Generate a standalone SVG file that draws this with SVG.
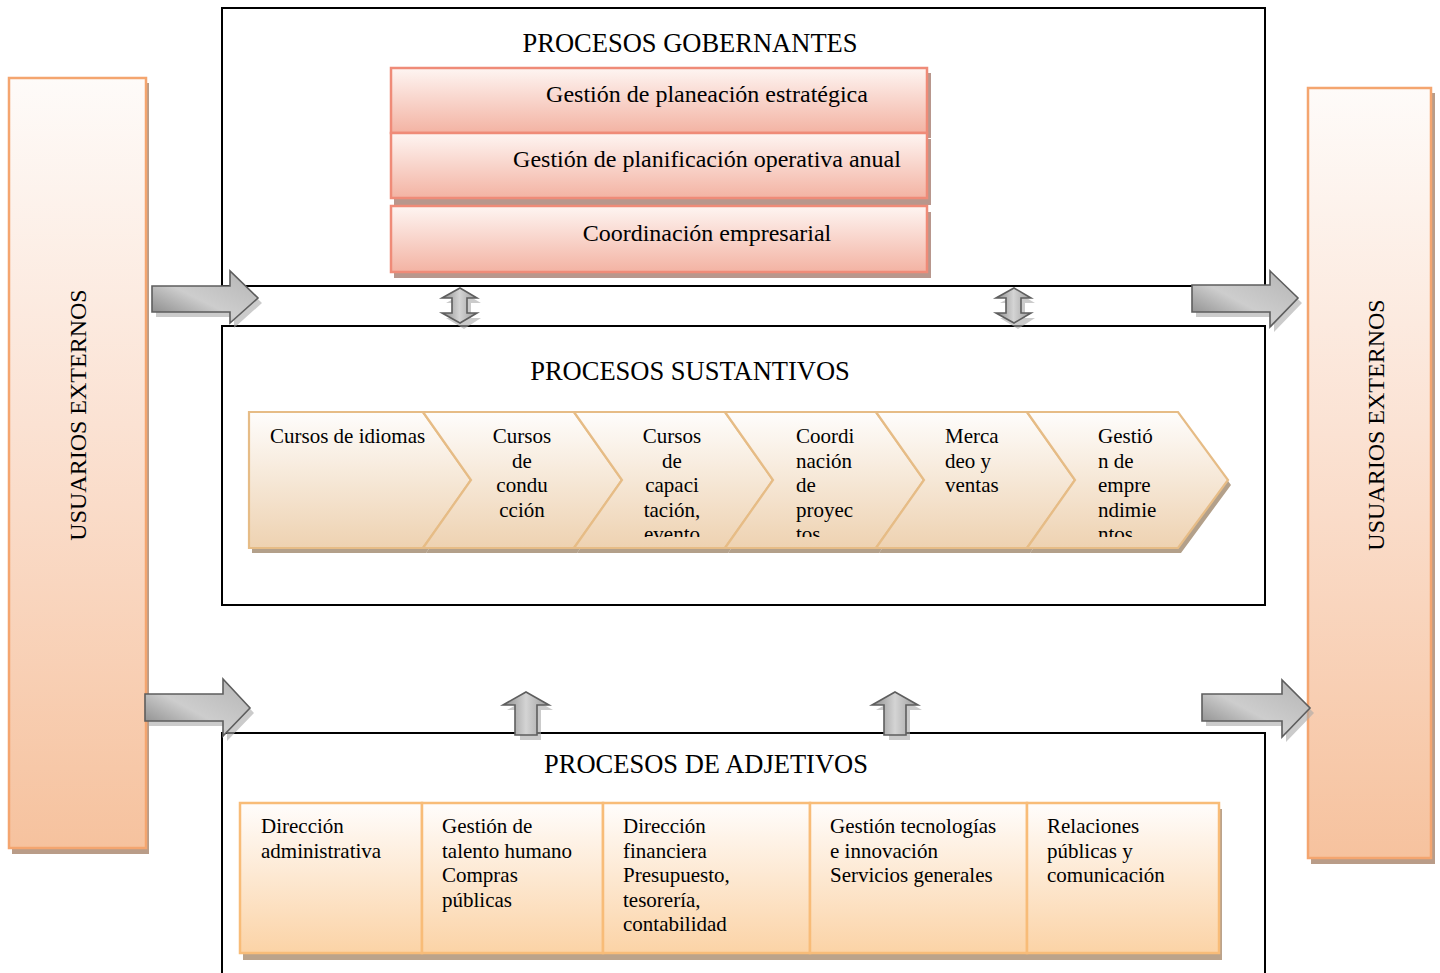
<svg xmlns="http://www.w3.org/2000/svg" width="1440" height="973" viewBox="0 0 1440 973">
<defs>
<linearGradient id="barG" x1="0" y1="0" x2="0" y2="1">
<stop offset="0" stop-color="#fefbf9"/><stop offset="0.45" stop-color="#fbe2d3"/><stop offset="1" stop-color="#f6c29e"/>
</linearGradient>
<linearGradient id="pinkG" x1="0" y1="0" x2="0" y2="1">
<stop offset="0" stop-color="#fef5f2"/><stop offset="1" stop-color="#f3b3a3"/>
</linearGradient>
<linearGradient id="chevG" x1="0" y1="0" x2="0" y2="1">
<stop offset="0" stop-color="#fefdfc"/><stop offset="1" stop-color="#eed2b1"/>
</linearGradient>
<linearGradient id="adjG" x1="0" y1="0" x2="0" y2="1">
<stop offset="0" stop-color="#fffdfc"/><stop offset="1" stop-color="#fbd3a6"/>
</linearGradient>
<linearGradient id="arrG" x1="0" y1="1" x2="1" y2="0">
<stop offset="0" stop-color="#7c7c7c"/><stop offset="0.45" stop-color="#cdcdcd"/><stop offset="1" stop-color="#b4b4b4"/>
</linearGradient>
<linearGradient id="arrV" x1="0" y1="0" x2="1" y2="0">
<stop offset="0" stop-color="#8a8a8a"/><stop offset="0.5" stop-color="#d4d4d4"/><stop offset="1" stop-color="#9a9a9a"/>
</linearGradient>
<clipPath id="chevClip"><rect x="240" y="410" width="1000" height="127"/></clipPath>
</defs>
<style>
text{font-family:"Liberation Serif","Times New Roman",serif;fill:#000}
.title{font-size:26.5px;text-anchor:middle}
.vt{font-size:24px;text-anchor:middle}
.pt{font-size:24px;text-anchor:middle}
.ct{font-size:21px}
.ctm{font-size:21px;text-anchor:middle}
.at{font-size:21px}
.frame{fill:none;stroke:#000;stroke-width:2}
.bar{fill:url(#barG);stroke:#f4a56f;stroke-width:2.5}
.bsh{fill:#b99c88}
.pink{fill:url(#pinkG);stroke:#ef8b78;stroke-width:2.5}
.psh{fill:#b8978d}
.chev{fill:url(#chevG);stroke:#e6bc86;stroke-width:2.2}
.csh{fill:#b3a08a}
.adj{fill:url(#adjG);stroke:#f8bc78;stroke-width:2.5}
.ash{fill:#bba38b}
.arr{fill:url(#arrG);stroke:#5e5e5e;stroke-width:1.6}
.arrv{fill:url(#arrV);stroke:#5e5e5e;stroke-width:1.6}
.ashd{fill:#a8a8a8;opacity:0.6}
</style>

<g id="frames">
<rect class="frame" x="222" y="8" width="1043" height="278"/>
<rect class="frame" x="222" y="326" width="1043" height="279"/>
<rect class="frame" x="222" y="733" width="1043" height="250"/>
</g>

<g id="usuarios-izq">
<rect class="bsh" x="12" y="83" width="137" height="771"/>
<rect class="bar" x="9" y="78" width="137" height="770"/>
<text class="vt" transform="translate(86,415) rotate(-90)">USUARIOS EXTERNOS</text>
</g>
<g id="usuarios-der">
<rect class="bsh" x="1311" y="93" width="124" height="771"/>
<rect class="bar" x="1308" y="88" width="123" height="770"/>
<text class="vt" transform="translate(1384,425) rotate(-90)">USUARIOS EXTERNOS</text>
</g>

<g id="gobernantes">
<text class="title" x="690" y="52">PROCESOS GOBERNANTES</text>
<g id="g-planeacion">
<rect class="psh" x="394" y="73" width="537" height="65"/>
<rect class="pink" x="391" y="68" width="536" height="65"/>
<text class="pt" x="707" y="102">Gestión de planeación estratégica</text>
</g>
<g id="g-planificacion">
<rect class="psh" x="394" y="139" width="537" height="66"/>
<rect class="pink" x="391" y="133" width="536" height="65"/>
<text class="pt" x="707" y="167">Gestión de planificación operativa anual</text>
</g>
<g id="g-coordinacion">
<rect class="psh" x="394" y="212" width="537" height="66"/>
<rect class="pink" x="391" y="206" width="536" height="66"/>
<text class="pt" x="707" y="241">Coordinación empresarial</text>
</g>
</g>

<g id="sustantivos">
<text class="title" x="690" y="380">PROCESOS SUSTANTIVOS</text>
<g id="s1">
<path class="csh" d="M252,417 L426,417 L474,485 L426,553 L252,553 Z"/>
<path class="chev" d="M249,412 L423,412 L471,480 L423,548 L249,548 Z"/>
</g>
<g id="s2">
<path class="csh" d="M426,417 L577,417 L625,485 L577,553 L426,553 L474,485 Z"/>
<path class="chev" d="M423,412 L574,412 L622,480 L574,548 L423,548 L471,480 Z"/>
</g>
<g id="s3">
<path class="csh" d="M577,417 L728,417 L776,485 L728,553 L577,553 L625,485 Z"/>
<path class="chev" d="M574,412 L725,412 L773,480 L725,548 L574,548 L622,480 Z"/>
</g>
<g id="s4">
<path class="csh" d="M728,417 L879,417 L927,485 L879,553 L728,553 L776,485 Z"/>
<path class="chev" d="M725,412 L876,412 L924,480 L876,548 L725,548 L773,480 Z"/>
</g>
<g id="s5">
<path class="csh" d="M879,417 L1030,417 L1078,485 L1030,553 L879,553 L927,485 Z"/>
<path class="chev" d="M876,412 L1027,412 L1075,480 L1027,548 L876,548 L924,480 Z"/>
</g>
<g id="s6">
<path class="csh" d="M1030,417 L1181,417 L1231,485 L1181,553 L1030,553 L1078,485 Z"/>
<path class="chev" d="M1027,412 L1178,412 L1228,480 L1178,548 L1027,548 L1075,480 Z"/>
</g>
<g id="s-texts" clip-path="url(#chevClip)">
<text class="ct" x="270" y="443">Cursos de idiomas</text>
<text class="ctm" x="522" y="443">Cursos</text>
<text class="ctm" x="522" y="467.5">de</text>
<text class="ctm" x="522" y="492">condu</text>
<text class="ctm" x="522" y="516.5">cción</text>
<text class="ctm" x="672" y="443">Cursos</text>
<text class="ctm" x="672" y="467.5">de</text>
<text class="ctm" x="672" y="492">capaci</text>
<text class="ctm" x="672" y="516.5">tación,</text>
<text class="ctm" x="672" y="541">evento</text>
<text class="ct" x="796" y="443">Coordi</text>
<text class="ct" x="796" y="467.5">nación</text>
<text class="ct" x="796" y="492">de</text>
<text class="ct" x="796" y="516.5">proyec</text>
<text class="ct" x="796" y="541">tos</text>
<text class="ct" x="945" y="443">Merca</text>
<text class="ct" x="945" y="467.5">deo y</text>
<text class="ct" x="945" y="492">ventas</text>
<text class="ct" x="1098" y="443">Gestió</text>
<text class="ct" x="1098" y="467.5">n de</text>
<text class="ct" x="1098" y="492">empre</text>
<text class="ct" x="1098" y="516.5">ndimie</text>
<text class="ct" x="1098" y="541">ntos</text>
</g>
</g>

<g id="adjetivos">
<text class="title" x="706" y="773">PROCESOS DE ADJETIVOS</text>
<g id="a1">
<rect class="ash" x="243" y="809" width="182" height="151"/>
<rect class="adj" x="240" y="803" width="182" height="150"/>
<text class="at" x="261" y="833">Dirección</text>
<text class="at" x="261" y="857.5">administrativa</text>
</g>
<g id="a2">
<rect class="ash" x="425" y="809" width="181" height="151"/>
<rect class="adj" x="422" y="803" width="181" height="150"/>
<text class="at" x="442" y="833">Gestión de</text>
<text class="at" x="442" y="857.5">talento humano</text>
<text class="at" x="442" y="882">Compras</text>
<text class="at" x="442" y="906.5">públicas</text>
</g>
<g id="a3">
<rect class="ash" x="606" y="809" width="207" height="151"/>
<rect class="adj" x="603" y="803" width="207" height="150"/>
<text class="at" x="623" y="833">Dirección</text>
<text class="at" x="623" y="857.5">financiera</text>
<text class="at" x="623" y="882">Presupuesto,</text>
<text class="at" x="623" y="906.5">tesorería,</text>
<text class="at" x="623" y="931">contabilidad</text>
</g>
<g id="a4">
<rect class="ash" x="813" y="809" width="217" height="151"/>
<rect class="adj" x="810" y="803" width="217" height="150"/>
<text class="at" x="830" y="833">Gestión tecnologías</text>
<text class="at" x="830" y="857.5">e innovación</text>
<text class="at" x="830" y="882">Servicios generales</text>
</g>
<g id="a5">
<rect class="ash" x="1030" y="809" width="192" height="151"/>
<rect class="adj" x="1027" y="803" width="192" height="150"/>
<text class="at" x="1047" y="833">Relaciones</text>
<text class="at" x="1047" y="857.5">públicas y</text>
<text class="at" x="1047" y="882">comunicación</text>
</g>
</g>

<g id="connectors">
<polygon class="ashd" points="156,291 234,291 234,276 262,303 234,328 234,317 156,317"/>
<polygon class="arr" points="152,286 230,286 230,271 258,298 230,323 230,312 152,312"/>
<polygon class="ashd" points="1196,290 1274,290 1274,276 1302,303 1274,332 1274,317 1196,317"/>
<polygon class="arr" points="1192,285 1270,285 1270,271 1298,298 1270,327 1270,312 1192,312"/>
<polygon class="ashd" points="149,699 227,699 227,684 254,713 227,741 227,726 149,726"/>
<polygon class="arr" points="145,694 223,694 223,679 250,708 223,736 223,721 145,721"/>
<polygon class="ashd" points="1206,699 1286,699 1286,685 1314,713 1286,742 1286,726 1206,726"/>
<polygon class="arr" points="1202,694 1282,694 1282,680 1310,708 1282,737 1282,721 1202,721"/>
<polygon class="ashd" points="464,293 481,303 471,303 471,318 481,318 464,329 446,318 456,318 456,303 446,303"/>
<polygon class="arrv" points="460,288 477,298 467,298 467,313 477,313 460,323 442,313 452,313 452,298 442,298"/>
<polygon class="ashd" points="1018,293 1035,303 1025,303 1025,318 1035,318 1018,329 1000,318 1010,318 1010,303 1000,303"/>
<polygon class="arrv" points="1014,288 1031,298 1021,298 1021,313 1031,313 1014,323 996,313 1006,313 1006,298 996,298"/>
<polygon class="ashd" points="530,697 553,710 541,710 541,740 520,740 520,710 507,710"/>
<polygon class="arrv" points="526,692 549,705 537,705 537,735 515,735 515,705 503,705"/>
<polygon class="ashd" points="899,697 922,710 910,710 910,740 889,740 889,710 876,710"/>
<polygon class="arrv" points="895,692 918,705 906,705 906,735 884,735 884,705 872,705"/>
</g>
</svg>
